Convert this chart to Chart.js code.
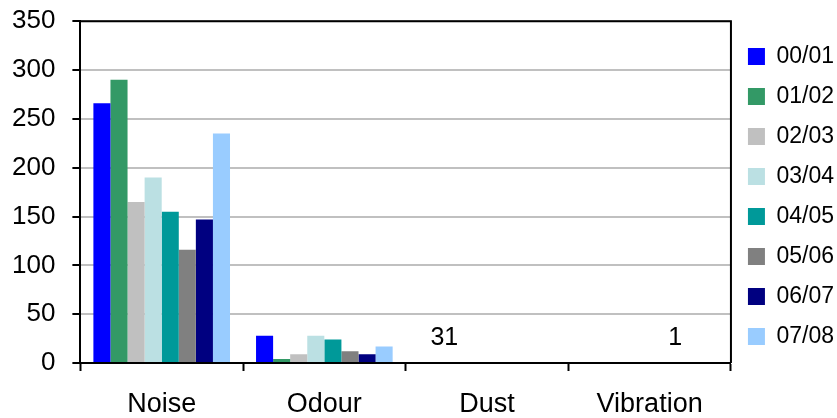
<!DOCTYPE html>
<html>
<head>
<meta charset="utf-8">
<script src="https://cdn.jsdelivr.net/npm/chart.js@4/dist/chart.umd.min.js"></script>
<style>
  html, body { margin: 0; padding: 0; background: #fff; }
  #wrap { width: 837px; height: 418px; }
</style>
</head>
<body>
<div id="wrap"><canvas id="mycanvas" width="837" height="418"></canvas></div>
<script>
// complaint types
var categories = ['Noise', 'Odour', 'Dust', 'Vibration'];

// one array per year, in category order
var years = ['00/01', '01/02', '02/03', '03/04', '04/05', '05/06', '06/07', '07/08'];
var y0001 = [266, 28, 0, 0];
var y0102 = [290, 4, 1, 0];
var y0203 = [165, 9, 0, 0];
var y0304 = [190, 28, 0, 0];
var y0405 = [155, 24, 0, 0];
var y0506 = [116, 12, 0, 0];
var y0607 = [147, 9, 0, 0];
var y0708 = [235, 17, 0, 0];
var seriesValues = [y0001, y0102, y0203, y0304, y0405, y0506, y0607, y0708];

var colours = ['#0000ff', '#339966', '#c0c0c0', '#bbe0e3', '#009999', '#808080', '#000080', '#99ccff'];

// y axis
var yTicks = [0, 50, 100, 150, 200, 250, 300, 350];

// stray labels sitting in the chart: [category, year, text]
var notes = [['Dust', '01/02', '31'], ['Vibration', '05/06', '1']];

Chart.defaults.font.family = '"Liberation Sans", Arial, sans-serif';
Chart.defaults.color = '#000';

var datasets = [];
for (var i in years) {
	datasets.push({
		label: years[i],
		data: seriesValues[i],
		backgroundColor: colours[i],
		borderWidth: 0,
		categoryPercentage: 0.84,
		barPercentage: 1.0
	});
}

var notesPlugin = {
	id: 'notes',
	afterDatasetsDraw: function(chart) {
		var ctx = chart.ctx;
		var y = chart.scales.y;
		ctx.save();
		ctx.font = '25px "Liberation Sans", Arial, sans-serif';
		ctx.fillStyle = '#000';
		ctx.textAlign = 'center';
		ctx.textBaseline = 'alphabetic';
		notes.forEach(function(n) {
			var bar = chart.getDatasetMeta(years.indexOf(n[1])).data[categories.indexOf(n[0])];
			ctx.fillText(n[2], bar.x, y.getPixelForValue(18));
		});
		ctx.restore();
	}
};

// top and right edges of the plot box
var framePlugin = {
	id: 'frame',
	afterDraw: function(chart) {
		var a = chart.chartArea;
		var ctx = chart.ctx;
		ctx.save();
		ctx.strokeStyle = '#000';
		ctx.lineWidth = 2;
		ctx.beginPath();
		ctx.moveTo(a.left, a.top);
		ctx.lineTo(a.right, a.top);
		ctx.lineTo(a.right, a.bottom);
		ctx.stroke();
		ctx.restore();
	}
};

var barGraph = new Chart(document.getElementById('mycanvas'), {
	type: 'bar',
	data: { labels: categories, datasets: datasets },
	plugins: [notesPlugin, framePlugin],
	options: {
		responsive: false,
		animation: false,
		layout: { padding: { left: -5, right: -7, top: 10, bottom: -20 } },
		plugins: {
			tooltip: { enabled: false },
			legend: {
				position: 'right',
				align: 'start',
				title: { display: true, text: '', padding: 0, font: { size: 18, lineHeight: 1 } },
				labels: {
					boxWidth: 17,
					boxHeight: 17,
					padding: 17,
					font: { size: 23 }
				}
			}
		},
		scales: {
			x: {
				grid: {
					drawOnChartArea: false,
					tickLength: 8,
					tickColor: '#000',
					tickWidth: 2
				},
				border: { color: '#000', width: 2 },
				ticks: { font: { size: 27, lineHeight: 1 }, padding: 20, maxRotation: 0 }
			},
			y: {
				min: 0,
				max: 350,
				afterBuildTicks: function(axis) {
					axis.ticks = yTicks.map(function(v) { return { value: v }; });
				},
				grid: {
					color: '#c0c0c0',
					lineWidth: 2,
					tickLength: 8,
					tickColor: '#000',
					tickWidth: 2
				},
				border: { color: '#000', width: 2 },
				ticks: { font: { size: 26, lineHeight: 0.33 }, padding: 17 }
			}
		}
	}
});
</script>
</body>
</html>
